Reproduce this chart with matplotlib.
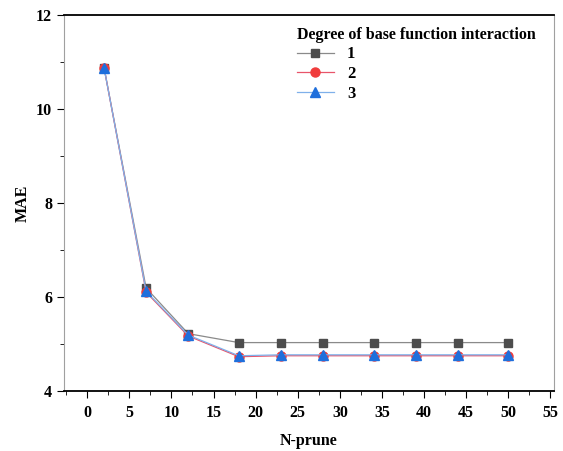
import matplotlib.pyplot as plt
from matplotlib.ticker import MultipleLocator

n_prune = [2, 7, 12, 18, 23, 28, 34, 39, 44, 50]
mae_deg1 = [10.88, 6.19, 5.22, 5.03, 5.03, 5.03, 5.03, 5.03, 5.03, 5.03]
mae_deg2 = [10.88, 6.10, 5.17, 4.73, 4.75, 4.75, 4.75, 4.75, 4.75, 4.75]
mae_deg3 = [10.88, 6.12, 5.19, 4.75, 4.77, 4.77, 4.77, 4.77, 4.77, 4.77]
labels = ["1", "2", "3"]

plt.rcParams["font.family"] = ["Liberation Serif", "DejaVu Serif"]
plt.rcParams["font.weight"] = "bold"

fig = plt.figure(figsize=(5.63, 4.51), dpi=100)
ax = fig.add_axes([0.1137, 0.133, 0.870, 0.834])

ax.plot(n_prune, mae_deg1, color="#8a8a8a", linewidth=0.9, marker="s", markersize=6,
        markerfacecolor="#4d4d4d", markeredgecolor="#4d4d4d", label=labels[0])
ax.plot(n_prune, mae_deg2, color="#e8546a", linewidth=0.9, marker="o", markersize=6.5,
        markerfacecolor="#f03c3c", markeredgecolor="#f03c3c", label=labels[1])
ax.plot(n_prune, mae_deg3, color="#7fb0ea", linewidth=0.9, marker="^", markersize=7,
        markerfacecolor="#1f6fdc", markeredgecolor="#1f6fdc", label=labels[2])

ax.set_xlim(-2.75, 55.4)
ax.set_ylim(4, 12)
ax.xaxis.set_major_locator(MultipleLocator(5))
ax.xaxis.set_minor_locator(MultipleLocator(2.5))
ax.yaxis.set_major_locator(MultipleLocator(2))
ax.yaxis.set_minor_locator(MultipleLocator(1))
ax.tick_params(which="both", direction="out", labelsize=11.5)
ax.tick_params(which="major", length=5)
ax.tick_params(which="minor", length=3)
ax.tick_params(axis="x", pad=5)

ax.spines["left"].set_color("#a0a0a0")
ax.spines["right"].set_color("#a0a0a0")
ax.spines["top"].set_color("black")
ax.spines["bottom"].set_color("black")
ax.spines["top"].set_linewidth(1.3)
ax.spines["bottom"].set_linewidth(1.3)

ax.set_xlabel("N-prune", fontsize=11.5, fontweight="bold", labelpad=9)
ax.set_ylabel("MAE", fontsize=11.5, fontweight="bold", labelpad=4)

leg = ax.legend(title="Degree of base function interaction", loc="upper left",
                bbox_to_anchor=(0.455, 0.995), frameon=False, fontsize=12,
                title_fontproperties={"weight": "bold", "size": 11.5},
                handlelength=2.2, labelspacing=0.22, borderaxespad=0.2)
leg._legend_box.align = "left"

fig.savefig("out.png", dpi=100)
